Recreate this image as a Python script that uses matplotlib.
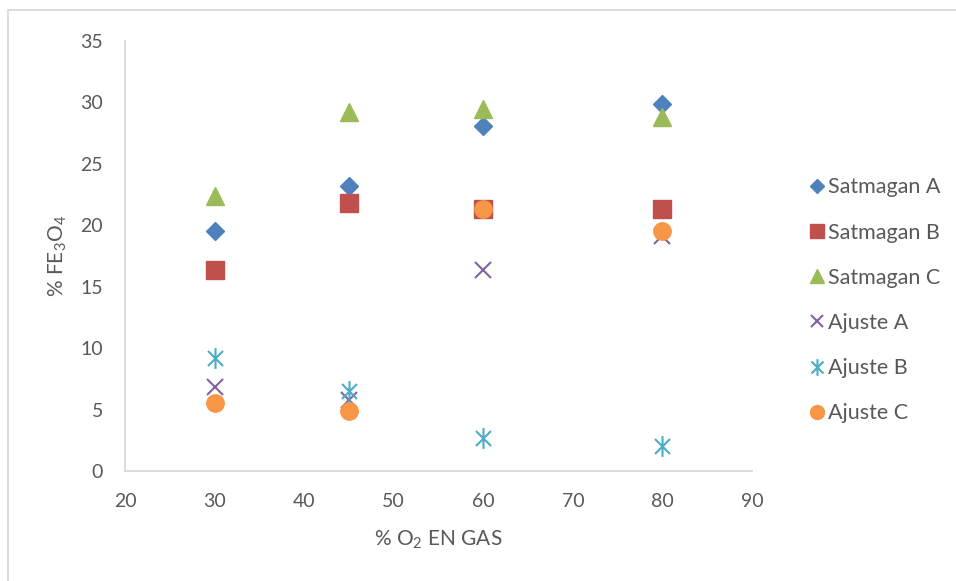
import numpy as np
import matplotlib
matplotlib.use("Agg")
import matplotlib.pyplot as plt
from matplotlib.path import Path
from matplotlib.patches import Rectangle

plt.rcParams['font.family'] = ['Lato', 'DejaVu Sans']
plt.rcParams['mathtext.fontset'] = 'custom'
plt.rcParams['mathtext.rm'] = 'Lato'
plt.rcParams['mathtext.it'] = 'Lato:italic'

# % O2 en gas
o2 = [30, 45, 60, 80]

# % Fe3O4 medido (Satmagan) y ajustado
satmagan_a = [19.5, 23.2, 28.1, 29.85]
satmagan_b = [16.35, 21.8, 21.3, 21.3]
satmagan_c = [22.4, 29.2, 29.5, 28.8]
ajuste_a = [6.8, 5.8, 16.35, 19.1]
ajuste_b = [9.2, 6.5, 2.7, 2.0]
ajuste_c = [5.5, 4.85, 21.3, 19.5]

labels = ['Satmagan A', 'Satmagan B', 'Satmagan C',
          'Ajuste A', 'Ajuste B', 'Ajuste C']

# asterisco tipo Excel: linea vertical + dos diagonales
d = 0.72
star = Path([(0, -1), (0, 1), (-d, -d), (d, d), (-d, d), (d, -d)],
            [Path.MOVETO, Path.LINETO, Path.MOVETO, Path.LINETO,
             Path.MOVETO, Path.LINETO])

txt = '#595959'
axc = '#d9d9d9'

fig = plt.figure(figsize=(9.56, 5.81), dpi=100)
ax = fig.add_axes([0.1308, 0.1893, 0.6558, 0.7401])

ax.plot(o2, satmagan_a, ls='none', marker='D', ms=9, color='#4F81BD', label=labels[0])
ax.plot(o2, satmagan_b, ls='none', marker='s', ms=12.5, color='#C0504D', label=labels[1])
ax.plot(o2, satmagan_c, ls='none', marker='^', ms=13, color='#9BBB59', label=labels[2])
ax.plot(o2, ajuste_a, ls='none', marker='x', ms=11, mew=1.5, color='#8064A2', label=labels[3])
ax.plot(o2, ajuste_b, ls='none', marker=star, ms=15, mew=1.5, mfc='none',
        color='#4BACC6', label=labels[4])
ax.plot(o2, ajuste_c, ls='none', marker='o', ms=12.5, color='#F79646', label=labels[5])

ax.set_xlim(20, 90)
ax.set_ylim(0, 35)
ax.set_xticks(np.arange(20, 91, 10))
ax.set_yticks(np.arange(0, 36, 5))

for s in ['top', 'right']:
    ax.spines[s].set_visible(False)
for s in ['left', 'bottom']:
    ax.spines[s].set_color(axc)
    ax.spines[s].set_linewidth(1.3)

ax.tick_params(axis='both', length=0, labelsize=14, labelcolor=txt)
ax.tick_params(axis='y', pad=16)
ax.tick_params(axis='x', pad=16)

ax.set_xlabel('% O$_2$ EN GAS', fontsize=15, color=txt, labelpad=13)
ax.set_ylabel('% FE$_3$O$_4$', fontsize=15, color=txt, labelpad=8)

fig.legend(loc='upper left', bbox_to_anchor=(0.826, 0.728), frameon=False,
           fontsize=15.5, labelcolor=txt, handlelength=0.7, handletextpad=0.2,
           labelspacing=1.17, markerscale=0.8)

# borde del area del grafico
fig.patches.append(Rectangle((8 / 956, -0.2), 1.2, 1.2 - 10 / 581,
                             transform=fig.transFigure, fill=False,
                             edgecolor=axc, linewidth=1.3))

fig.savefig('out.png', dpi=100)
